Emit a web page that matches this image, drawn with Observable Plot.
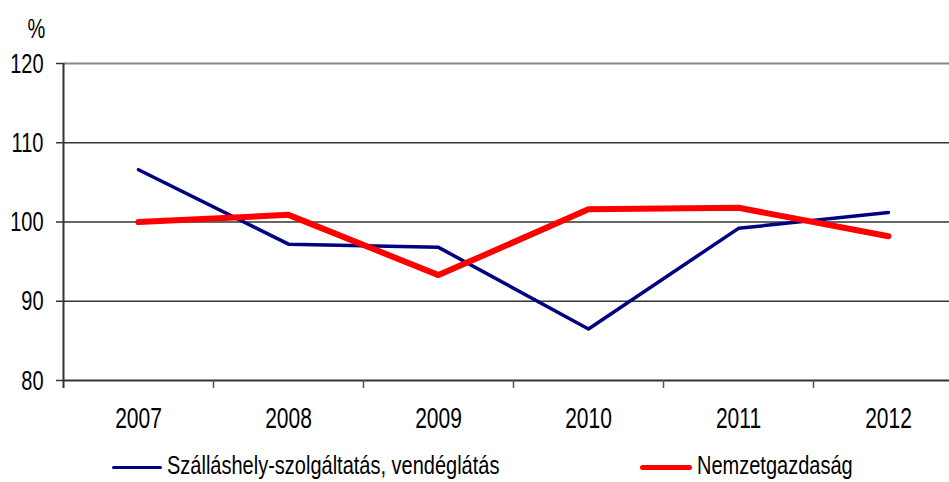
<!DOCTYPE html>
<html>
<head>
<meta charset="utf-8">
<script src="https://cdn.jsdelivr.net/npm/d3@7"></script>
<script src="https://cdn.jsdelivr.net/npm/@observablehq/plot@0.6"></script>
<style>
  html, body { margin: 0; padding: 0; background: #fff; }
  #wrap { position: relative; width: 949px; height: 482px; overflow: hidden; font-family: "Liberation Sans", Arial, sans-serif; }
  .lg-line { position: absolute; }
  .lg-text { position: absolute; font-size: 20px; line-height: 14px; white-space: nowrap; color: #000;
             display: inline-block; transform: scaleY(1.3); transform-origin: 50% 50%; }
</style>
</head>
<body>
<div id="wrap"></div>
<script>
// ---- data ----
const years = [2007, 2008, 2009, 2010, 2011, 2012];
const szallashely = [106.6, 97.2, 96.8, 86.5, 99.2, 101.2];
const nemzetgazdasag = [100.0, 100.9, 93.3, 101.6, 101.8, 98.2];
const yTicks = [80, 90, 100, 110, 120];
const seriesNames = ["Szálláshely-szolgáltatás, vendéglátás", "Nemzetgazdaság"];
const seriesColors = ["#000080", "#ff0000"];
const seriesWidths = [3.5, 6];
const yLabel = "%";

const rows = [];
years.forEach((yr, i) => {
  rows.push({year: yr, value: szallashely[i], series: seriesNames[0]});
  rows.push({year: yr, value: nemzetgazdasag[i], series: seriesNames[1]});
});
const boundaries = years.slice(1).map(y => y - 0.5);

const W = 949, H = 450;
const chart = Plot.plot({
  width: W,
  height: H,
  marginTop: 63,
  marginBottom: H - 380,
  marginLeft: 63,
  marginRight: 0,
  style: {fontFamily: "Liberation Sans, Arial, sans-serif", fontSize: "20px", color: "#000", background: "#fff"},
  x: {type: "linear", domain: [years[0] - 0.5, years[years.length - 1] + 0.5], range: [63, 963], axis: null},
  y: {domain: [80, 120], axis: null},
  marks: [
    Plot.ruleY(yTicks.filter(v => v > 80 && v < 120), {stroke: "#333", strokeWidth: 1.5}),
    Plot.ruleY([120], {stroke: "#888", strokeWidth: 2}),
    Plot.ruleY([80], {stroke: "#333", strokeWidth: 2}),
    Plot.ruleX([years[0] - 0.5], {y1: 120, y2: 80, insetBottom: -8, stroke: "#333", strokeWidth: 2}),
    Plot.ruleX(boundaries, {y1: 80, y2: 80, insetBottom: -8, stroke: "#555", strokeWidth: 1.5}),
    Plot.axisY({ticks: yTicks, tickSize: 7, tickPadding: 13, stroke: "#333", strokeWidth: 1.5, label: null, fontSize: 20, tickFormat: d => `${d}`}),
    Plot.axisX({ticks: years, tickSize: 0, tickPadding: 30, label: null, fontSize: 21, tickFormat: d => `${d}`}),
    Plot.text([yLabel], {frameAnchor: "top-left", dx: -27, dy: -35, text: d => d, fontSize: 20, textAnchor: "middle", lineAnchor: "middle"}),
    Plot.line(rows.filter(r => r.series === seriesNames[0]), {x: "year", y: "value", stroke: seriesColors[0], strokeWidth: seriesWidths[0], strokeLinecap: "round", strokeLinejoin: "round"}),
    Plot.line(rows.filter(r => r.series === seriesNames[1]), {x: "year", y: "value", stroke: seriesColors[1], strokeWidth: seriesWidths[1], strokeLinecap: "round", strokeLinejoin: "round"})
  ]
});

const wrap = document.getElementById("wrap");
chart.style.position = "absolute";
chart.style.left = "0px";
chart.style.top = "0px";
wrap.appendChild(chart);

// stretch text vertically to match the reference's tall glyphs
const S = 1.4;
chart.querySelectorAll("text").forEach(t => {
  const b = t.getBBox();
  const cx = b.x + b.width / 2, cy = b.y + b.height / 2;
  const prev = t.getAttribute("transform") || "";
  t.setAttribute("transform", `${prev} translate(${cx},${cy}) scale(1,${S}) translate(${-cx},${-cy})`);
});

// legend (below the plot)
const legendItems = [
  {name: seriesNames[0], color: seriesColors[0], lineLeft: 112, lineWidth: 50, thick: 3, textLeft: 167},
  {name: seriesNames[1], color: seriesColors[1], lineLeft: 640, lineWidth: 52, thick: 5, textLeft: 697}
];
legendItems.forEach(it => {
  const ln = document.createElement("div");
  ln.className = "lg-line";
  ln.style.left = it.lineLeft + "px";
  ln.style.width = it.lineWidth + "px";
  ln.style.height = it.thick + "px";
  ln.style.top = (467 - it.thick / 2) + "px";
  ln.style.background = it.color;
  ln.style.borderRadius = (it.thick / 2) + "px";
  wrap.appendChild(ln);
  const tx = document.createElement("span");
  tx.className = "lg-text";
  tx.style.left = it.textLeft + "px";
  tx.style.top = "458px";
  tx.textContent = it.name;
  wrap.appendChild(tx);
});
</script>
</body>
</html>
